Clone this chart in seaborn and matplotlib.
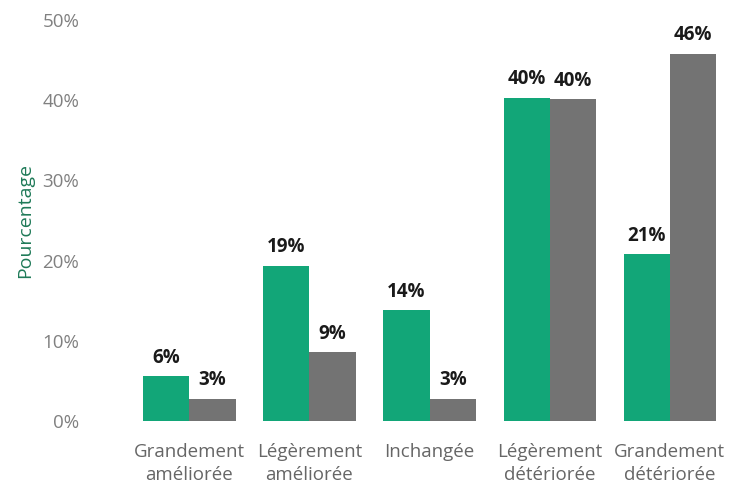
import matplotlib
matplotlib.use("Agg")
import matplotlib.pyplot as plt
import pandas as pd
import seaborn as sns

# Catégories et valeurs (%)
categories = ["Grandement\naméliorée", "Légèrement\naméliorée", "Inchangée",
              "Légèrement\ndétériorée", "Grandement\ndétériorée"]
serie_verte = [5.6, 19.4, 13.8, 40.3, 20.8]
serie_grise = [2.8, 8.6, 2.8, 40.1, 45.8]
yticks = [0, 10, 20, 30, 40, 50]

df = pd.DataFrame({
    "categorie": categories * 2,
    "valeur": serie_verte + serie_grise,
    "groupe": ["A"] * len(categories) + ["B"] * len(categories),
})

sns.set_style("white")
plt.rcParams["font.family"] = ["Open Sans", "DejaVu Sans"]

fig = plt.figure(figsize=(7.3, 4.88), dpi=100)
ax = fig.add_axes([0.177, 0.137, 0.823, 0.822])

sns.barplot(
    data=df, x="categorie", y="valeur", hue="groupe",
    palette=["#12a678", "#737373"], width=0.77, saturation=1,
    linewidth=0, legend=False, ax=ax
)

for cont in ax.containers:
    ax.bar_label(cont, labels=[f"{round(v)}%" for v in cont.datavalues],
                 padding=6, fontsize=13.5, fontweight="bold", color="#1a1a1a")

ax.set_xlim(-0.5, 4.5)
ax.set_ylim(0, 50)
ax.set_yticks(yticks)
ax.set_yticklabels([f"{t}%" for t in yticks])
ax.tick_params(axis="y", pad=36, labelsize=13.5, labelcolor="#808080", length=0)
ax.tick_params(axis="x", pad=16, labelsize=13.5, labelcolor="#666666", length=0)
for lab in ax.get_xticklabels():
    lab.set_linespacing(1.35)
ax.set_xlabel("")
ax.set_ylabel("Pourcentage", color="#1f7a58", fontsize=14, labelpad=6)
sns.despine(left=True, bottom=True)

fig.savefig("out.png", dpi=100)
